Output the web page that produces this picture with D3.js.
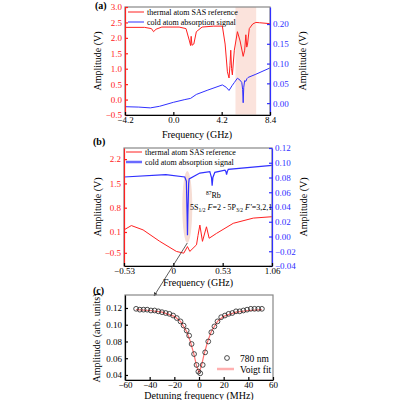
<!DOCTYPE html>
<html><head><meta charset="utf-8">
<script src="https://cdn.jsdelivr.net/npm/d3@7"></script>
<style>body{margin:0;background:#fff}svg text{font-family:"Liberation Serif","DejaVu Serif",serif !important}</style>
</head><body><div id="chart"></div>
<script>
// Panel (a) thermal SAS reference (left axis, V)
const aRedX = [-4.2,-2.5,-1.9,-1.72,-1.5,-1.0,0.5,1.1,1.4,1.5,1.55,1.62,1.78,2.0,2.5,3.5,4.26,4.5,4.7,4.84,4.92,4.99,5.06,5.13,5.3,5.57,5.8,6.07,6.2,6.3,6.38,6.45,6.6,6.9,7.17,7.5,8.4];
const aRedY = [2.34,2.34,2.3,2.2,2.28,2.35,2.35,2.3,1.9,1.75,2.05,1.76,1.8,2.2,2.35,2.38,2.38,1.8,0.9,0.7,1.1,1.6,1.0,0.8,1.6,2.2,1.9,1.4,1.6,2.1,1.7,1.8,2.3,2.45,2.5,2.49,2.46];
// Panel (a) cold atom absorption (right axis, V)
const aBluX = [-4.2,-3.0,-2.0,-1.2,0.0,1.0,1.5,2.0,3.0,4.26,4.6,4.84,5.1,5.3,5.57,5.8,5.95,6.02,6.07,6.12,6.2,6.3,6.4,6.5,7.17,8.4];
const aBluY = [-0.009,-0.01,-0.012,-0.008,0.002,0.009,0.012,0.022,0.033,0.046,0.040,0.032,0.044,0.052,0.063,0.058,0.052,0.035,0.001,0.04,0.057,0.055,0.062,0.065,0.073,0.089];
// Panel (b)
const bRedX = [-0.53,-0.451,-0.325,-0.146,0.033,0.112,0.152,0.177,0.249,0.265,0.285,0.313,0.356,0.385,0.464,0.644,0.859,1.06];
const bRedY = [0.16,0.285,0.16,-0.17,-0.46,-0.51,-0.32,-0.46,-0.27,0.0,0.3,-0.17,0.25,-0.08,0.06,0.35,0.5,0.54];
const bBluX = [-0.53,-0.08,0.123,0.14,0.148,0.152,0.156,0.165,0.17,0.285,0.392,0.41,0.417,0.425,0.446,0.554,0.565,0.572,0.58,0.59,1.06];
const bBluY = [0.0807,0.0838,0.0807,0.075,0.03,0.0016,0.03,0.072,0.078,0.086,0.088,0.08,0.069,0.08,0.087,0.090,0.088,0.084,0.088,0.091,0.0965];
// Panel (c)
const cX = [-51,-48,-45,-42,-39,-36,-33,-30,-27,-24,-21,-18,-15,-12.5,-10,-8,-6,-4,-2,-0.5,1,3,5,7.5,10,12.5,15,18,21,24,27,30,33,36,39,42,45,48,51];
const cY = [0.119,0.118,0.118,0.118,0.117,0.117,0.116,0.115,0.114,0.113,0.111,0.108,0.104,0.099,0.093,0.087,0.077,0.065,0.052,0.044,0.042,0.052,0.067,0.080,0.091,0.098,0.104,0.109,0.111,0.113,0.114,0.116,0.116,0.117,0.118,0.119,0.119,0.119,0.119];
const fitX = [-51,-40,-30,-20,-15,-10,-7,-4,-2,0,2,4,7,10,15,20,30,40,51];
const fitY = [0.118,0.117,0.115,0.110,0.104,0.092,0.080,0.064,0.051,0.043,0.051,0.064,0.080,0.092,0.104,0.110,0.115,0.117,0.118];

const svg = d3.select("#chart").append("svg").attr("width",400).attr("height",400);
const RED="#ff2020", BLUE="#3030ff";

function frame(x0,x1,y0,y1){
  svg.append("rect").attr("x",x0).attr("y",y0).attr("width",x1-x0).attr("height",y1-y0)
    .attr("fill","none").attr("stroke","#888").attr("stroke-width",1.2);
}
function styleAxis(g,col){
  g.selectAll("path,line").attr("stroke",col).attr("stroke-width",1.2);
  g.selectAll("text").attr("fill",col).style("font-size","9px");
}
function leftAxis(sc,x,vals,fmt,col){
  styleAxis(svg.append("g").attr("transform",`translate(${x},0)`)
    .call(d3.axisLeft(sc).tickValues(vals).tickFormat(fmt).tickSize(-3).tickPadding(3).tickSizeOuter(0)),col);
}
function rightAxis(sc,x,vals,fmt,col){
  styleAxis(svg.append("g").attr("transform",`translate(${x},0)`)
    .call(d3.axisRight(sc).tickValues(vals).tickFormat(fmt).tickSize(-3).tickPadding(3).tickSizeOuter(0)),col);
}
function bottomAxis(sc,y,vals,fmt){
  styleAxis(svg.append("g").attr("transform",`translate(0,${y})`)
    .call(d3.axisBottom(sc).tickValues(vals).tickFormat(fmt).tickSize(-3).tickPadding(2).tickSizeOuter(0)),"#000");
}
function line(xs,ys,sx,sy,col,w){
  svg.append("path").datum(xs.map((v,i)=>[v,ys[i]]))
    .attr("d",d3.line().x(d=>sx(d[0])).y(d=>sy(d[1])))
    .attr("fill","none").attr("stroke",col).attr("stroke-width",w);
}
function vlabel(txt,x,y){
  svg.append("text").attr("transform",`translate(${x},${y}) rotate(-90)`)
    .attr("text-anchor","middle").style("font-size","10px").text(txt);
}
function xlabel(txt,x,y){
  svg.append("text").attr("x",x).attr("y",y).attr("text-anchor","middle").style("font-size","10px").text(txt);
}
function legend(x,y,items){
  items.forEach((it,i)=>{
    svg.append("line").attr("x1",x).attr("x2",x+16).attr("y1",y+i*10).attr("y2",y+i*10)
      .attr("stroke",it[1]).attr("stroke-width",it[2]);
    svg.append("text").attr("x",x+19).attr("y",y+i*10+3).style("font-size","8px").text(it[0]);
  });
}

// ---- (a)
const ax = d3.scaleLinear().domain([-4.2,8.4]).range([125,270]);
const ayL = d3.scaleLinear().domain([-0.5,3.0]).range([115,7]);
const ayR = d3.scaleLinear().domain([-0.03,0.243]).range([115,7]);
svg.append("rect").attr("x",ax(5.4)).attr("y",7).attr("width",ax(7.2)-ax(5.4)).attr("height",108)
  .attr("fill","#fbe3dc");
line(aRedX,aRedY,ax,ayL,RED,1);
line(aBluX,aBluY,ax,ayR,BLUE,1);
frame(125,270,7,115);
leftAxis(ayL,125,[-0.5,0,0.5,1,1.5,2,2.5,3],d3.format(".1f"),RED);
rightAxis(ayR,270,[0,0.05,0.1,0.15,0.2],d3.format(".2f"),BLUE);
bottomAxis(ax,115,[-4.2,0,4.2,8.4],d3.format(".1f"));
legend(128,12,[["thermal atom SAS reference",RED,1],["cold atom absorption signal",BLUE,1]]);
vlabel("Amplitude (V)",101,61); vlabel("Amplitude (V)",306,61);
xlabel("Frequency (GHz)",197,138);

// ---- (b)
const bx = d3.scaleLinear().domain([-0.53,1.06]).range([124,272]);
const byL = d3.scaleLinear().domain([-0.88,2.52]).range([266,148]);
const byR = d3.scaleLinear().domain([-0.04,0.12]).range([266,148]);
svg.append("ellipse").attr("cx",bx(0.15)).attr("cy",207).attr("rx",5).attr("ry",36).attr("fill","#f6ddd4");
line(bRedX,bRedY,bx,byL,RED,1);
line(bBluX,bBluY,bx,byR,BLUE,1.2);
frame(124,272,148,266);
leftAxis(byL,124,[-0.5,0.1,0.8,1.5,2.2],d3.format(".1f"),RED);
rightAxis(byR,272,[-0.04,-0.02,0,0.02,0.04,0.06,0.08,0.1,0.12],d3.format(".2f"),BLUE);
bottomAxis(bx,266,[-0.53,0,0.53,1.06],v=>v===0?"0":d3.format(".2f")(v));
legend(126,152,[["thermal atom SAS reference",RED,1],["cold atom absorption signal","#6a6aff",2.5]]);
vlabel("Amplitude (V)",101,207); vlabel("Amplitude (V)",307,207);
xlabel("Frequency (GHz)",198,286);
const t1=svg.append("text").attr("x",206).attr("y",198).style("font-size","8px");
t1.append("tspan").attr("dy",-3).style("font-size","5.5px").text("87");
t1.append("tspan").attr("dy",3).text("Rb");
const t2=svg.append("text").attr("x",190).attr("y",210).style("font-size","8px");
t2.append("tspan").text("5S");
t2.append("tspan").attr("dy",2).style("font-size","5.5px").text("1/2");
t2.append("tspan").attr("dy",-2).text(" ");
t2.append("tspan").attr("font-style","italic").text("F");
t2.append("tspan").text("=2 - 5P");
t2.append("tspan").attr("dy",2).style("font-size","5.5px").text("3/2");
t2.append("tspan").attr("dy",-2).text(" ");
t2.append("tspan").attr("font-style","italic").text("F'");
t2.append("tspan").text("=3,2,1");
// arrow
svg.append("defs").append("marker").attr("id","arr").attr("viewBox","0 0 10 10").attr("refX",9).attr("refY",5)
  .attr("markerWidth",5).attr("markerHeight",5).attr("orient","auto")
  .append("path").attr("d","M0,0L10,5L0,10z").attr("fill","#333");
svg.append("line").attr("x1",bx(0.15)).attr("y1",243).attr("x2",154).attr("y2",296)
  .attr("stroke","#333").attr("stroke-width",0.8).attr("marker-end","url(#arr)");

// ---- (c)
const cx = d3.scaleLinear().domain([-60,60]).range([125,273]);
const cy = d3.scaleLinear().domain([0.034,0.1355]).range([380,295]);
line(fitX,fitY,cx,cy,"#ff7070",1.2);
svg.append("g").selectAll("circle").data(cX).join("circle")
  .attr("cx",d=>cx(d)).attr("cy",(d,i)=>cy(cY[i])).attr("r",2.4)
  .attr("fill","none").attr("stroke","#222").attr("stroke-width",0.8);
frame(125,273,295,380);
leftAxis(cy,125,[0.04,0.06,0.08,0.1,0.12],d3.format(".2f"),"#000");
bottomAxis(cx,380,[-60,-40,-20,0,20,40,60],d3.format("d"));
svg.append("circle").attr("cx",227).attr("cy",358).attr("r",2.4).attr("fill","none").attr("stroke","#222").attr("stroke-width",0.8);
svg.append("text").attr("x",240).attr("y",362).style("font-size","9.5px").text("780 nm");
svg.append("line").attr("x1",217).attr("x2",234).attr("y1",369).attr("y2",369).attr("stroke","#ffb0b0").attr("stroke-width",2.5);
svg.append("text").attr("x",240).attr("y",373).style("font-size","9.5px").text("Voigt fit");
vlabel("Amplitude (arb. units)",100,338);
xlabel("Detuning frequency (MHz)",199,399);

// panel labels
[["(a)",95,9],["(b)",93,145],["(c)",93,294]].forEach(p=>
  svg.append("text").attr("x",p[1]).attr("y",p[2]).style("font-size","10px").style("font-weight","bold").text(p[0]));
</script></body></html>
